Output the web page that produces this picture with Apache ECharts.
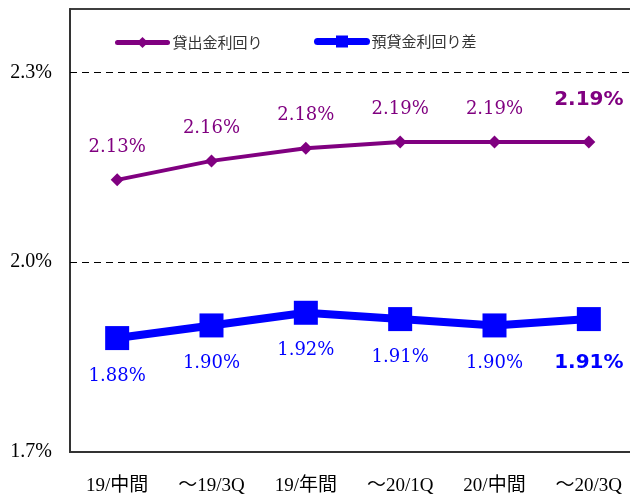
<!DOCTYPE html>
<html>
<head>
<meta charset="utf-8">
<script src="https://cdn.jsdelivr.net/npm/echarts@6/dist/echarts.min.js"></script>
<style>html,body{margin:0;padding:0;background:#fff;overflow:hidden}#c{width:640px;height:499px}</style>
</head>
<body>
<div id="c"></div>
<script>
var categories = ['19/中間', '～19/3Q', '19/年間', '～20/1Q', '20/中間', '～20/3Q'];
var loanYield = [2.13, 2.16, 2.18, 2.19, 2.19, 2.19];
var spread = [1.88, 1.90, 1.92, 1.91, 1.90, 1.91];
var seriesNames = ['貸出金利回り', '預貸金利回り差'];
var yTicks = [1.7, 2.0, 2.3];
var gridLines = [2.0, 2.3];

var serifLabel = { fontFamily: 'DejaVu Serif', fontSize: 18 };
var boldLabel = { fontFamily: 'DejaVu Sans', fontWeight: 'bold', fontSize: 20 };

function buildData(vals, lastExtra) {
  return vals.map(function (v, i) {
    if (i === vals.length - 1) return { value: v, label: lastExtra };
    return v;
  });
}

var legendText = { fontFamily: 'Noto Sans CJK JP', fontSize: 15, color: '#333' };

var chart = echarts.init(document.getElementById('c'), null, { renderer: 'canvas' });
chart.setOption({
  animation: false,
  backgroundColor: '#fff',
  grid: { left: 70, top: 9, width: 566, height: 443, show: true, borderColor: '#000', borderWidth: 1.5 },
  legend: [
    { data: [{ name: seriesNames[0], lineStyle: { width: 5, cap: 'round' } }], padding: 0,
      left: 115, top: 35, itemWidth: 50, itemHeight: 14, textStyle: legendText },
    { data: [{ name: seriesNames[1], lineStyle: { width: 7, cap: 'round' } }], padding: 0,
      left: 314, top: 34, itemWidth: 49, itemHeight: 15, textStyle: legendText }
  ],
  xAxis: {
    type: 'category', data: categories, boundaryGap: true,
    axisLine: { lineStyle: { color: '#333', width: 2 } },
    axisTick: { inside: true, length: 6, lineStyle: { color: '#333' } },
    axisLabel: { fontFamily: 'Liberation Serif, Noto Sans CJK JP', fontSize: 19, color: '#000', margin: 25 }
  },
  yAxis: {
    type: 'value', min: 1.7, max: 2.4, interval: 0.1,
    axisLine: { show: true, lineStyle: { color: '#333', width: 2 } },
    axisTick: { show: false },
    splitLine: { show: false },
    axisLabel: {
      fontFamily: 'Liberation Serif', fontSize: 20, color: '#000', margin: 18,
      formatter: function (v) {
        for (var i = 0; i < yTicks.length; i++) {
          if (Math.abs(v - yTicks[i]) < 1e-6) return yTicks[i].toFixed(1) + '%';
        }
        return '';
      }
    }
  },
  series: [
    {
      name: seriesNames[0], type: 'line', data: buildData(loanYield, Object.assign({ distance: 26, color: '#800080' }, boldLabel)),
      symbol: 'diamond', symbolSize: [13, 13],
      lineStyle: { color: '#800080', width: 4 },
      itemStyle: { color: '#800080' },
      label: Object.assign({ show: true, position: 'top', distance: 17, color: '#800080',
        formatter: function (p) { return p.value.toFixed(2) + '%'; } }, serifLabel),
      markLine: {
        silent: true, symbol: 'none', label: { show: false },
        lineStyle: { color: '#000', type: [7, 5], width: 1 },
        data: gridLines.map(function (g) { return { yAxis: g }; })
      },
      z: 3
    },
    {
      name: seriesNames[1], type: 'line', data: buildData(spread, Object.assign({ distance: 22, color: '#0000ff' }, boldLabel)),
      symbol: 'rect', symbolSize: 24,
      lineStyle: { color: '#0000ff', width: 8 },
      itemStyle: { color: '#0000ff' },
      label: Object.assign({ show: true, position: 'bottom', distance: 17, color: '#0000ff',
        formatter: function (p) { return p.value.toFixed(2) + '%'; } }, serifLabel),
      z: 3
    }
  ]
});
</script>
</body>
</html>
